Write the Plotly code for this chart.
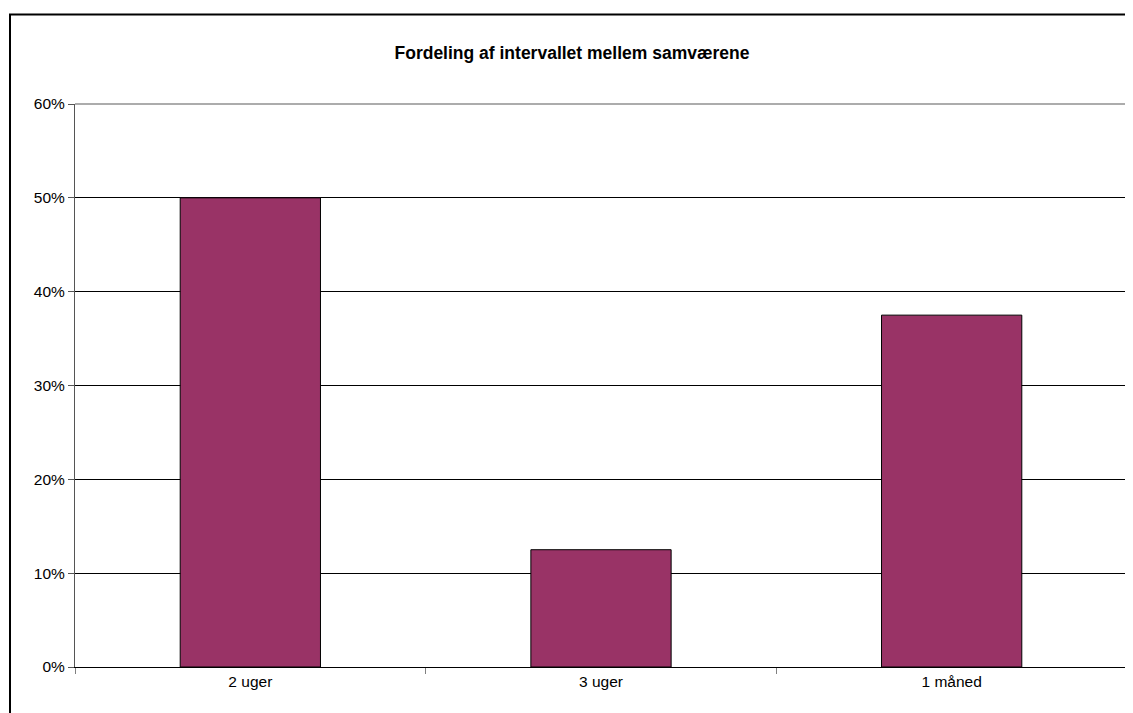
import plotly.graph_objects as go

categories = ["2 uger", "3 uger", "1 måned"]
values = [0.50, 0.125, 0.375]
y_ticks = [0, 0.1, 0.2, 0.3, 0.4, 0.5, 0.6]
y_tick_labels = ["0%", "10%", "20%", "30%", "40%", "50%", "60%"]
title = "Fordeling af intervallet mellem samværene"

# page body has an 8px offset
OFF = 8
W, H = 1133, 713
L = 75 - OFF
T = 104 - OFF
R = W - (1127 - OFF)
B = H - (667 - OFF)
pw, ph = W - L - R, H - T - B

fig = go.Figure()
fig.add_trace(go.Bar(
    x=categories, y=values, width=0.4,
    marker=dict(color="#993366", line=dict(color="#000000", width=1)),
))

def px_to_paper_x(px):
    return (px - OFF - L) / pw

def px_to_paper_y(py):
    return (H - B - (py - OFF)) / ph

fig.update_layout(
    width=W, height=H,
    margin=dict(l=L, r=R, t=T, b=B),
    paper_bgcolor="white", plot_bgcolor="white",
    showlegend=False,
    font=dict(family="Liberation Sans, Arial", size=15.5, color="#000000"),
    title=dict(text="<b>" + title + "</b>", x=(572 - OFF) / W, xref="container", xanchor="center",
               y=1 - (53 - OFF) / H, yref="container", yanchor="middle",
               font=dict(size=17.5, family="Liberation Sans, Arial", color="#000")),
    xaxis=dict(showgrid=False, showline=True, linecolor="#000", linewidth=1,
               ticks="outside", ticklen=6, tickcolor="#808080", tickson="boundaries",
               mirror=False, tickfont=dict(size=15.5)),
    yaxis=dict(range=[0, 0.6], tickvals=y_ticks, ticktext=y_tick_labels,
               showgrid=True, gridcolor="#000", gridwidth=1,
               showline=True, linecolor="#555", linewidth=1,
               ticks="outside", ticklen=6, tickcolor="#555", zeroline=False,
               tickfont=dict(size=15.5)),
    bargap=0.6,
    shapes=[
        dict(type="line", xref="paper", yref="paper", x0=0, x1=1, y0=1, y1=1,
             line=dict(color="#909090", width=1.5)),
        dict(type="line", xref="paper", yref="paper", x0=1, x1=1, y0=0, y1=1,
             line=dict(color="#909090", width=1.5)),
        dict(type="rect", xref="paper", yref="paper",
             x0=px_to_paper_x(10), x1=px_to_paper_x(1145),
             y0=px_to_paper_y(725), y1=px_to_paper_y(14.5),
             line=dict(color="#000", width=2), layer="above"),
    ],
)

fig.write_html("out.html")
